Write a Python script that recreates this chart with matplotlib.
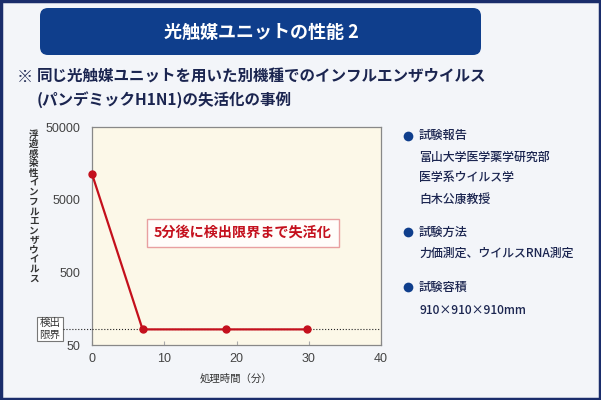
import matplotlib
matplotlib.use("Agg")
import matplotlib.pyplot as plt
from matplotlib.patches import FancyBboxPatch, Rectangle
from matplotlib.transforms import blended_transform_factory

plt.rcParams['font.family'] = ['Noto Sans CJK JP', 'DejaVu Sans']

# ---- data ----
times = [0, 7, 18.6, 29.7]
virus = [11300, 82, 82, 82]
detect_limit = 82
x_ticks = [0, 10, 20, 30, 40]
y_ticks = [50, 500, 5000, 50000]
y_ticklabels = ['50', '500', '5000', '50000']
title = '光触媒ユニットの性能 2'
subtitle1 = '同じ光触媒ユニットを用いた別機種でのインフルエンザウイルス'
subtitle2 = '(パンデミックH1N1)の失活化の事例'
ylabel = '浮遊感染性インフルエンザウイルス'
xlabel = '処理時間（分）'
note = '5分後に検出限界まで失活化'
limit_label = ['検出', '限界']
side_headers = ['試験報告', '試験方法', '試験容積']
side_items = [['富山大学医学薬学研究部', '医学系ウイルス学', '白木公康教授'],
              ['力価測定、ウイルスRNA測定'],
              ['910×910×910mm']]

NAVY = '#0f3e8c'
TEXT = '#1b2550'
RED = '#c4101c'

fig = plt.figure(figsize=(6.01, 4.0), dpi=100)
fig.patch.set_facecolor('#f3f5f9')

# background/pixel axes
bg = fig.add_axes([0, 0, 1, 1], zorder=0)
bg.set_xlim(0, 601)
bg.set_ylim(400, 0)
bg.axis('off')

bg.add_patch(Rectangle((1, 1), 599, 398, fill=False, ec='#1a2d6b', lw=2.5))
bg.add_patch(FancyBboxPatch((40, 8), 441, 47, boxstyle='round,pad=0,rounding_size=8',
                            fc=NAVY, ec='none'))
bg.text(261, 32, title, color='white', fontsize=13, fontweight='bold',
        ha='center', va='center')
bg.text(17, 77, '※', color=TEXT, fontsize=11.5, fontweight='bold', ha='left', va='center')
bg.text(37, 77, subtitle1, color=TEXT, fontsize=11.2, fontweight='bold', ha='left', va='center')
bg.text(37, 100, subtitle2, color=TEXT, fontsize=11.2, fontweight='bold', ha='left', va='center')

# vertical y-label (one character per row)
y0, step = 134.5, 9.6
for i, ch in enumerate(ylabel):
    bg.text(34, y0 + i * step, ch, color='#333333', fontsize=6.9, fontweight='bold',
            ha='center', va='center')

# side panel
rows = [(135.7, 0, None), (157, 0, 0), (178, 0, 1), (199, 0, 2),
        (232, 1, None), (253, 1, 0), (287, 2, None), (310, 2, 0)]
for y, g, idx in rows:
    if idx is None:
        bg.plot([408], [y], 'o', color=NAVY, ms=7, mec='none')
        bg.text(419, y, side_headers[g], color=TEXT, fontsize=8.8, fontweight='medium',
                ha='left', va='center')
    else:
        bg.text(419, y, side_items[g][idx], color=TEXT, fontsize=8.6, fontweight='medium',
                ha='left', va='center')

# chart axes
ax = fig.add_axes([92 / 601, 1 - 345 / 400, 289 / 601, 218 / 400], zorder=2)
ax.set_facecolor('#fcf8e8')
ax.set_yscale('log')
ax.set_xlim(0, 40)
ax.set_ylim(50, 50000)
ax.plot(times, virus, '-o', color=RED, lw=1.6, ms=5, zorder=4, clip_on=False)
ax.axhline(detect_limit, ls=':', color='#222222', lw=0.8, zorder=3)

ax.set_xticks(x_ticks)
ax.set_xticklabels([str(v) for v in x_ticks])
ax.set_yticks(y_ticks)
ax.set_yticklabels(y_ticklabels)
ax.minorticks_off()
ax.tick_params(axis='x', direction='in', length=3, color='#aaaaaa', pad=6,
               labelsize=9, labelcolor='#444444')
ax.tick_params(axis='y', length=0, pad=8, labelsize=9, labelcolor='#444444')
for lab in ax.get_xticklabels() + ax.get_yticklabels():
    lab.set_family('Liberation Sans')
for s in ax.spines.values():
    s.set_color('#888888')
    s.set_linewidth(0.9)

ax.set_xlabel(xlabel, fontsize=7.5, color='#333333', labelpad=6)

# note box
ax.text(0.522, 0.514, note, transform=ax.transAxes, color=RED, fontsize=10.2,
        fontweight='bold', ha='center', va='center', zorder=5,
        bbox=dict(boxstyle='square,pad=0.5', fc='#fffdfa', ec='#e8a0a0', lw=1))

# detection limit label and dotted extension
tr = blended_transform_factory(bg.transData, ax.transData)
bg_line = plt.Line2D([63, 92], [detect_limit, detect_limit], transform=tr, ls=':',
                     color='#222222', lw=0.8)
fig.add_artist(bg_line)
bg.add_patch(Rectangle((37, 317), 26, 24, fc='white', ec='#777777', lw=0.8, zorder=3))
bg.text(50, 323.2, limit_label[0], color='#333333', fontsize=7.6, ha='center',
        va='center', zorder=4)
bg.text(50, 334.8, limit_label[1], color='#333333', fontsize=7.6, ha='center',
        va='center', zorder=4)

fig.savefig('out.png', dpi=100, facecolor=fig.get_facecolor())
